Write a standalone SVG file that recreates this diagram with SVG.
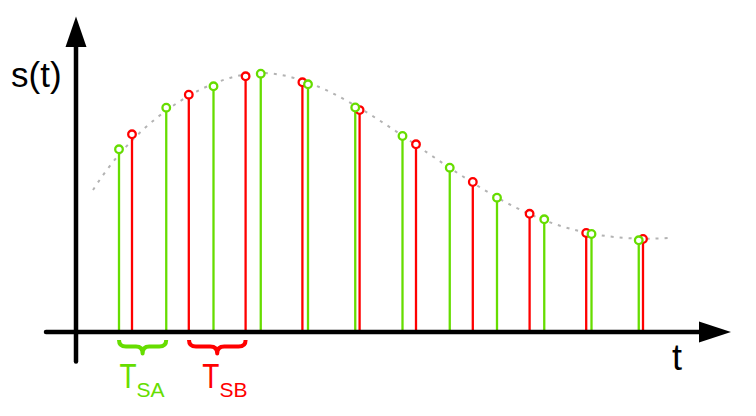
<svg xmlns="http://www.w3.org/2000/svg" width="756" height="416" viewBox="0 0 756 416">
<style>
.g{stroke:#66dd00;stroke-width:2.3;fill:none}
.r{stroke:#ff0000;stroke-width:2.3;fill:none}
.gc{stroke:#66dd00;stroke-width:2.3;fill:#fff}
.rc{stroke:#ff0000;stroke-width:2.3;fill:#fff}
.ax{stroke:#000;stroke-width:4.5;stroke-linecap:round;fill:none}
.lbl{font-family:"Liberation Sans",Arial,sans-serif}
</style>
<rect width="756" height="416" fill="#fff"/>
<g id="curve">
<path d="M93,190 C143,111 216,73 261,73 C321,73 390,128.4 450,168 C510,207.6 568,244 668,238" fill="none" stroke="#b3b3b3" stroke-width="2" stroke-dasharray="3 6"/>
</g>
<g id="connectors">
<g id="stems-green">
<line class="g" x1="119" y1="331" x2="119" y2="153"/>
<line class="g" x1="166.25" y1="331" x2="166.25" y2="111.5"/>
<line class="g" x1="213.5" y1="331" x2="213.5" y2="90"/>
<line class="g" x1="260.75" y1="331" x2="260.75" y2="77.5"/>
<line class="g" x1="308" y1="331" x2="308" y2="88"/>
<line class="g" x1="355.25" y1="331" x2="355.25" y2="111.2"/>
<line class="g" x1="402.5" y1="331" x2="402.5" y2="139.7"/>
<line class="g" x1="449.75" y1="331" x2="449.75" y2="171.5"/>
<line class="g" x1="497" y1="331" x2="497" y2="201.5"/>
<line class="g" x1="544.25" y1="331" x2="544.25" y2="223"/>
<line class="g" x1="591.5" y1="331" x2="591.5" y2="237.7"/>
<line class="g" x1="638.75" y1="331" x2="638.75" y2="244"/>
</g>
<g id="stems-red">
<line class="r" x1="132" y1="331" x2="132" y2="138"/>
<line class="r" x1="188.8" y1="331" x2="188.8" y2="98.5"/>
<line class="r" x1="245.6" y1="331" x2="245.6" y2="80"/>
<line class="r" x1="302.4" y1="331" x2="302.4" y2="86"/>
<line class="r" x1="359.6" y1="331" x2="359.6" y2="113.8"/>
<line class="r" x1="416" y1="331" x2="416" y2="148"/>
<line class="r" x1="472.8" y1="331" x2="472.8" y2="185.7"/>
<line class="r" x1="529.6" y1="331" x2="529.6" y2="217.5"/>
<line class="r" x1="586.2" y1="331" x2="586.2" y2="236.7"/>
<line class="r" x1="643" y1="331" x2="643" y2="242.7"/>
</g>
</g>
<g id="samples-red">
<circle class="rc" cx="132" cy="134.3" r="3.8"/>
<circle class="rc" cx="188.8" cy="94.7" r="3.8"/>
<circle class="rc" cx="245.6" cy="76.3" r="3.8"/>
<circle class="rc" cx="302.4" cy="82.3" r="3.8"/>
<circle class="rc" cx="359.6" cy="110.1" r="3.8"/>
<circle class="rc" cx="416" cy="144.3" r="3.8"/>
<circle class="rc" cx="472.8" cy="182" r="3.8"/>
<circle class="rc" cx="529.6" cy="213.8" r="3.8"/>
<circle class="rc" cx="586.2" cy="233" r="3.8"/>
<circle class="rc" cx="643" cy="239" r="3.8"/>
</g>
<g id="samples-green">
<circle class="gc" cx="119" cy="149.3" r="3.8"/>
<circle class="gc" cx="166.25" cy="107.7" r="3.8"/>
<circle class="gc" cx="213.5" cy="86.3" r="3.8"/>
<circle class="gc" cx="260.75" cy="73.7" r="3.8"/>
<circle class="gc" cx="308" cy="84.3" r="3.8"/>
<circle class="gc" cx="355.25" cy="107.5" r="3.8"/>
<circle class="gc" cx="402.5" cy="136" r="3.8"/>
<circle class="gc" cx="449.75" cy="167.7" r="3.8"/>
<circle class="gc" cx="497" cy="197.7" r="3.8"/>
<circle class="gc" cx="544.25" cy="219.3" r="3.8"/>
<circle class="gc" cx="591.5" cy="234" r="3.8"/>
<circle class="gc" cx="638.75" cy="240.3" r="3.8"/>
</g>
<g id="axes">
<line class="ax" x1="46" y1="332" x2="702" y2="332"/>
<polygon points="699,321.5 731,332 699,342.5" fill="#000"/>
<line class="ax" x1="76" y1="361.5" x2="76" y2="45"/>
<polygon points="65.5,47 76,16.5 86.5,47" fill="#000"/>
<text class="lbl" x="11" y="87" font-size="35" fill="#000">s(t)</text>
<text class="lbl" x="672" y="370" font-size="36" fill="#000">t</text>
</g>
<g id="brace-a">
<path d="M119,340 Q119,346.5 126,346.5 L136,346.5 Q142.6,346.5 142.6,353.5 Q142.6,346.5 149.2,346.5 L159.2,346.5 Q166.2,346.5 166.2,340" fill="none" stroke="#66dd00" stroke-width="4" stroke-linejoin="round"/>
<text class="lbl" transform="translate(119.5,387.5) scale(0.8,1)" font-size="35" fill="#66dd00">T</text>
<text class="lbl" x="136.5" y="397" font-size="21" fill="#66dd00">SA</text>
</g>
<g id="brace-b">
<path d="M189,340 Q189,346.5 196,346.5 L210.2,346.5 Q217.2,346.5 217.2,353.5 Q217.2,346.5 224.2,346.5 L238.6,346.5 Q245.6,346.5 245.6,340" fill="none" stroke="#ff0000" stroke-width="4" stroke-linejoin="round"/>
<text class="lbl" transform="translate(202.2,387.5) scale(0.8,1)" font-size="35" fill="#ff0000">T</text>
<text class="lbl" x="219.5" y="397" font-size="21" fill="#ff0000">SB</text>
</g>
</svg>
